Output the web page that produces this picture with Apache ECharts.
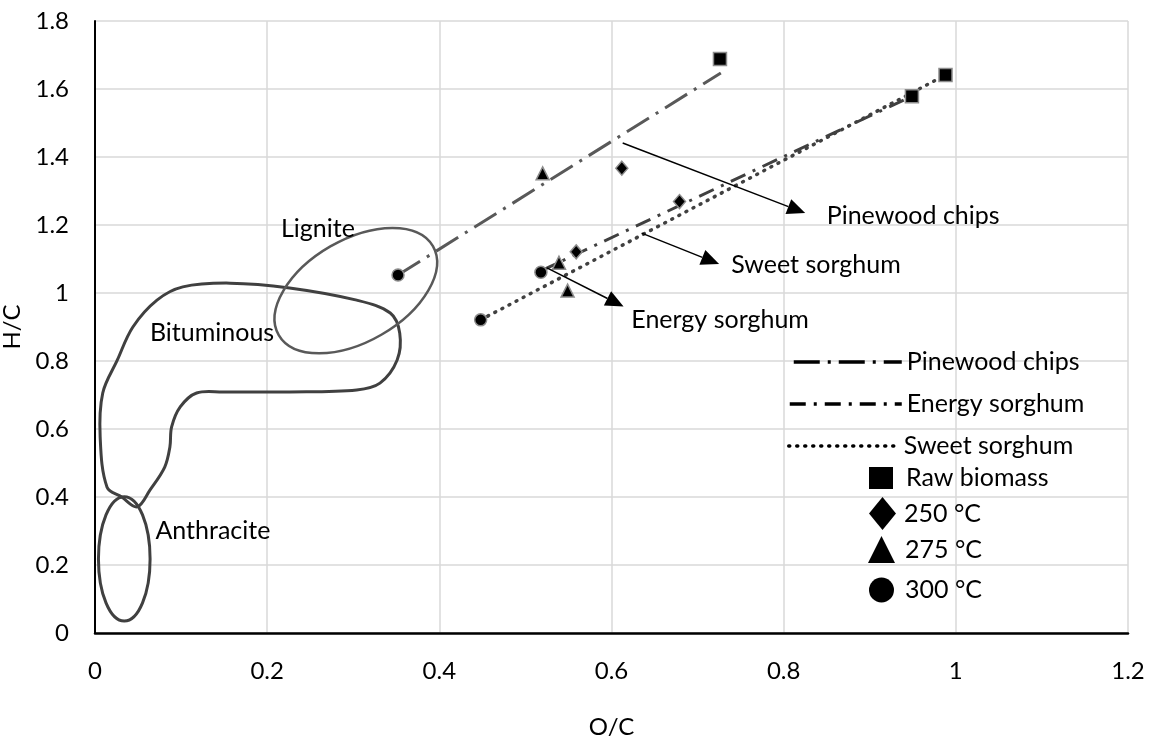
<!DOCTYPE html>
<html><head><meta charset="utf-8">
<script src="https://cdn.jsdelivr.net/npm/echarts@6/dist/echarts.min.js"></script>
<style>html,body{margin:0;padding:0;background:#fff}#c{width:1151px;height:751px}</style>
</head><body><div id="c"></div>
<script>
// ---- data (O/C, H/C) ----
const stages = ['Raw biomass', '250 °C', '275 °C', '300 °C'];
const pinewood      = [[0.726, 1.688], [0.612, 1.367], [0.520, 1.352], [0.352, 1.053]];
const energySorghum = [[0.949, 1.579], [0.559, 1.121], [0.539, 1.089], [0.518, 1.061]];
const sweetSorghum  = [[0.988, 1.641], [0.679, 1.269], [0.549, 1.007], [0.448, 0.921]];
const pinewoodTrend = [[0.352, 1.053], [0.727, 1.647]];
const energyTrend   = [[0.518, 1.065], [0.949, 1.579]];
const sweetTrend    = [[0.448, 0.921], [0.988, 1.641]];
// coal region outlines
const bituminous = [[0.014,0.429],[0.006,0.576],[0.009,0.706],[0.026,0.803],[0.044,0.900],[0.072,0.979],[0.102,1.018],[0.157,1.029],[0.226,1.015],[0.304,0.979],[0.343,0.941],[0.354,0.882],[0.351,0.803],[0.331,0.735],[0.304,0.715],[0.226,0.709],[0.149,0.709],[0.118,0.706],[0.099,0.665],[0.089,0.606],[0.087,0.547],[0.081,0.488],[0.064,0.421],[0.049,0.371],[0.031,0.400]];
// [centerX, centerY, semiAxisX (x units), semiAxisY (y units), tilt deg]
const lignite    = [0.303, 1.007, 0.1034, 0.150, 30];
const anthracite = [0.034, 0.218, 0.030, 0.183, 0];
const regionLabels = [['Lignite', 0.259, 1.188], ['Bituminous', 0.136, 0.882], ['Anthracite', 0.137, 0.300]];
const seriesLabels = [['Pinewood chips', 0.850, 1.226], ['Sweet sorghum', 0.739, 1.082], ['Energy sorghum', 0.623, 0.921]];
const arrows = [[[0.613, 1.441], [0.825, 1.235]], [[0.635, 1.176], [0.725, 1.085]], [[0.525, 1.074], [0.614, 0.960]]];

const FONT = 'Lato';
const markerSymbols = ['rect', 'diamond', 'triangle', 'circle'];
const markerSizes = [13, [12, 14], 13, 12];

const series = [];
series.push({
  type: 'custom', name: 'bit', silent: true, clip: false, z: 1,
  data: [[0, 0]],
  renderItem: (params, api) => ({
    type: 'polygon',
    shape: { points: bituminous.map(p => api.coord(p)), smooth: 0.35 },
    style: { fill: 'none', stroke: '#404040', lineWidth: 3 }
  })
});
series.push({
  type: 'custom', name: 'ell', silent: true, clip: false, z: 1,
  data: [lignite, anthracite],
  renderItem: (params, api) => {
    const c = api.coord([api.value(0), api.value(1)]);
    const rx = api.size([api.value(2), 0])[0];
    const ry = api.size([0, api.value(3)])[1];
    return {
      type: 'ellipse', x: c[0], y: c[1], rotation: api.value(4) * Math.PI / 180,
      shape: { cx: 0, cy: 0, rx: rx, ry: ry },
      style: { fill: 'none', stroke: params.dataIndex === 0 ? '#595959' : '#404040', lineWidth: params.dataIndex === 0 ? 2.5 : 3 }
    };
  }
});
series.push({ type: 'line', name: 'Pinewood chips', data: pinewoodTrend, symbol: 'none', z: 3,
  itemStyle: { color: '#000' },
  lineStyle: { color: '#595959', width: 3, type: [26, 8, 3, 8] } });
series.push({ type: 'line', name: 'Energy sorghum', data: energyTrend, symbol: 'none', z: 3,
  itemStyle: { color: '#000' },
  lineStyle: { color: '#404040', width: 3, type: [16, 8, 3, 8] } });
series.push({ type: 'line', name: 'Sweet sorghum', data: sweetTrend, symbol: 'none', z: 3,
  itemStyle: { color: '#000' },
  lineStyle: { color: '#404040', width: 3.5, type: [1, 7], cap: 'round' } });
stages.forEach((st, i) => {
  series.push({
    type: 'scatter', name: st, z: 5,
    symbol: markerSymbols[i], symbolSize: markerSizes[i],
    data: [pinewood[i], energySorghum[i], sweetSorghum[i]],
    itemStyle: { color: '#000', opacity: 1, borderColor: '#8c8c8c', borderWidth: 1.5 }
  });
});
series.push({
  type: 'custom', name: 'arrows', silent: true, clip: false, z: 6,
  data: arrows.map(a => [a[0][0], a[0][1], a[1][0], a[1][1]]),
  renderItem: (params, api) => {
    const p0 = api.coord([api.value(0), api.value(1)]);
    const p1 = api.coord([api.value(2), api.value(3)]);
    const dx = p1[0] - p0[0], dy = p1[1] - p0[1];
    const L = Math.sqrt(dx * dx + dy * dy), ux = dx / L, uy = dy / L;
    const hl = 18, hw = 8;
    const bx = p1[0] - ux * hl, by = p1[1] - uy * hl;
    return { type: 'group', children: [
      { type: 'line', shape: { x1: p0[0], y1: p0[1], x2: bx, y2: by }, style: { stroke: '#000', lineWidth: 1.5 } },
      { type: 'polygon', shape: { points: [p1, [bx - uy * hw, by + ux * hw], [bx + uy * hw, by - ux * hw]] }, style: { fill: '#000' } }
    ]};
  }
});
series.push({
  type: 'custom', name: 'texts', silent: true, clip: false, z: 7,
  data: regionLabels.map(r => [r[1], r[2], 'c']).concat(seriesLabels.map(r => [r[1], r[2], 'l'])),
  renderItem: (params, api) => {
    const all = regionLabels.concat(seriesLabels);
    const c = api.coord([api.value(0), api.value(1)]);
    return { type: 'text', x: c[0], y: c[1], style: {
      text: all[params.dataIndex][0], fontFamily: FONT, fontSize: 25, fill: '#000',
      align: params.dataIndex < regionLabels.length ? 'center' : 'left', verticalAlign: 'middle' } };
  }
});

const legendBase = { orient: 'vertical', selectedMode: false, padding: 0,
  textStyle: { fontFamily: FONT, fontSize: 25, color: '#000', lineHeight: 26 } };
const noSym = { color: 'rgba(0,0,0,0)', borderWidth: 0 };
const solid = { color: '#000', opacity: 1, borderWidth: 0 };
const legends = [
  { data: ['Pinewood chips'], left: 792, top: 349, itemWidth: 108, itemHeight: 14, itemStyle: noSym, lineStyle: { color: '#000', width: 3.5 } },
  { data: ['Energy sorghum'], left: 788, top: 391, itemWidth: 112, itemHeight: 14, itemStyle: noSym, lineStyle: { color: '#000', width: 3.5 } },
  { data: ['Sweet sorghum'], left: 787, top: 433, itemWidth: 110, itemHeight: 14, itemStyle: noSym, lineStyle: { color: '#000', width: 3.5 } },
  { data: ['Raw biomass'], left: 869, top: 465, itemWidth: 24, itemHeight: 22, itemStyle: solid, textStyle: { padding: [0, 0, 0, 8] } },
  { data: ['250 °C'], left: 869, top: 497, itemWidth: 27, itemHeight: 33, itemStyle: solid, textStyle: { padding: [0, 0, 0, 3] } },
  { data: ['275 °C'], left: 868, top: 536, itemWidth: 27, itemHeight: 27, itemStyle: solid, textStyle: { padding: [0, 0, 0, 5] } },
  { data: ['300 °C'], left: 869, top: 577, itemWidth: 25, itemHeight: 25, itemStyle: solid, textStyle: { padding: [0, 0, 0, 6] } }
].map(l => Object.assign({}, legendBase, l, { textStyle: Object.assign({}, legendBase.textStyle, l.textStyle || {}) }));

const chart = echarts.init(document.getElementById('c'));
chart.setOption({
  animation: false,
  backgroundColor: '#fff',
  grid: { left: 95, right: 23, top: 21, bottom: 118, containLabel: false, outerBoundsMode: 'none' },
  xAxis: {
    type: 'value', min: 0, max: 1.2, interval: 0.2,
    name: 'O/C', nameLocation: 'middle', nameGap: 82,
    nameTextStyle: { fontFamily: FONT, fontSize: 24, color: '#000' },
    axisLine: { show: true, lineStyle: { color: '#000', width: 2.5 } },
    axisTick: { show: false },
    axisLabel: { fontFamily: FONT, fontSize: 24, color: '#000', margin: 26 },
    splitLine: { show: true, lineStyle: { color: '#d9d9d9', width: 1.5 } }
  },
  yAxis: {
    type: 'value', min: 0, max: 1.8, interval: 0.2,
    name: 'H/C', nameLocation: 'middle', nameGap: 66,
    nameTextStyle: { fontFamily: FONT, fontSize: 24, color: '#000' },
    axisLine: { show: true, lineStyle: { color: '#000', width: 2 } },
    axisTick: { show: false },
    axisLabel: { fontFamily: FONT, fontSize: 24, color: '#000', margin: 26 },
    splitLine: { show: true, lineStyle: { color: '#d9d9d9', width: 1.5 } }
  },
  legend: legends,
  series: series
});
</script></body></html>
